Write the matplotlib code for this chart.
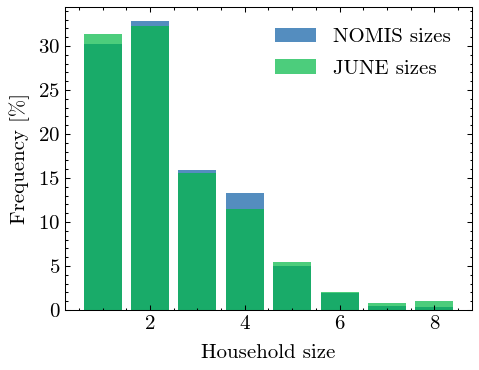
import matplotlib
matplotlib.use("Agg")
import matplotlib.pyplot as plt
from matplotlib.ticker import MultipleLocator

# Household size distribution, values in percent
household_sizes = [1, 2, 3, 4, 5, 6, 7, 8]
nomis_freq = [30.2, 32.8, 15.9, 13.3, 5.0, 1.95, 0.5, 0.35]
june_freq = [31.4, 32.3, 15.6, 11.5, 5.45, 2.05, 0.8, 1.0]

plt.rcParams["font.family"] = "cmr10"
plt.rcParams["mathtext.fontset"] = "cm"
plt.rcParams["axes.formatter.use_mathtext"] = True
plt.rcParams["font.size"] = 15
plt.rcParams["axes.linewidth"] = 0.75

fig = plt.figure(figsize=(4.79, 3.70), dpi=100)
ax = fig.add_axes([0.136, 0.162, 0.849, 0.819])

ax.bar(household_sizes, nomis_freq, width=0.8, color="#0C5DA5", alpha=0.7, label="NOMIS sizes")
ax.bar(household_sizes, june_freq, width=0.8, color="#00B945", alpha=0.7, label="JUNE sizes")

ax.set_xlabel("Household size", labelpad=8)
ax.set_ylabel("Frequency [%]", labelpad=6)

ax.xaxis.set_major_locator(MultipleLocator(2))
ax.xaxis.set_minor_locator(MultipleLocator(0.5))
ax.yaxis.set_major_locator(MultipleLocator(5))
ax.yaxis.set_minor_locator(MultipleLocator(1))
ax.tick_params(which="both", direction="in", top=True, right=True, width=0.75)
ax.tick_params(which="major", length=3.5)
ax.tick_params(which="minor", length=1.8)

ax.legend(frameon=False, loc="upper right", handlelength=2.0, handleheight=0.7,
          labelspacing=0.6, borderaxespad=0.6)

fig.savefig("out.png", dpi=100)
